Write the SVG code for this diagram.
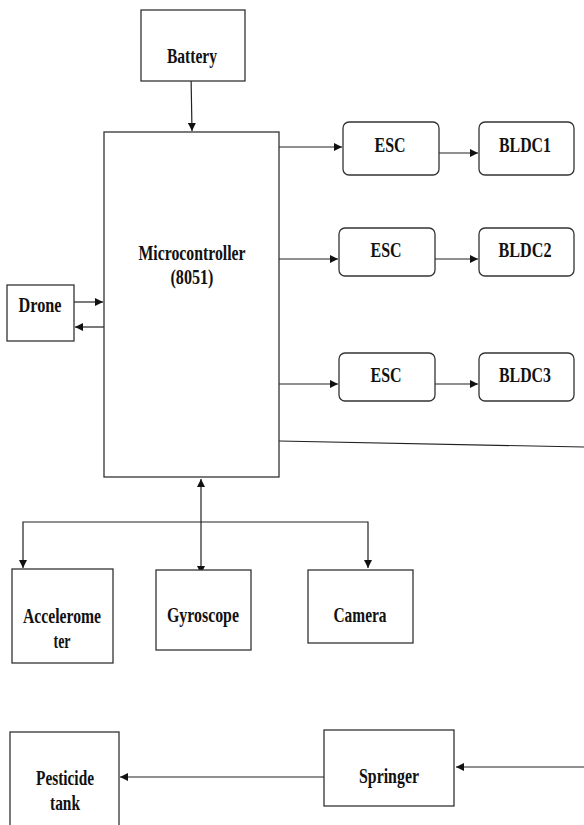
<svg xmlns="http://www.w3.org/2000/svg" width="584" height="825" viewBox="0 0 584 825" font-family="Liberation Serif, DejaVu Serif, serif">
<style>
.box{fill:#fff;stroke:#333;stroke-width:1.3}
text{font-weight:700;font-size:21px;fill:#111;text-anchor:middle}
.c{fill:none;stroke:#222;stroke-width:1.2}
</style>
<defs>
<marker id="a" viewBox="0 0 10 10" refX="10" refY="5" markerWidth="8" markerHeight="8" orient="auto-start-reverse" markerUnits="userSpaceOnUse">
<path d="M0,0 L10,5 L0,10 z" fill="#111"/>
</marker>
</defs>
<rect width="584" height="825" fill="#fff"/>
<g id="connectors">
<line class="c" x1="191" y1="74" x2="192" y2="131" marker-end="url(#a)"/>
<line class="c" x1="279" y1="147" x2="342" y2="147" marker-end="url(#a)"/>
<line class="c" x1="439" y1="153" x2="478" y2="153" marker-end="url(#a)"/>
<line class="c" x1="279" y1="259" x2="338" y2="259" marker-end="url(#a)"/>
<line class="c" x1="435" y1="259" x2="478" y2="259" marker-end="url(#a)"/>
<line class="c" x1="279" y1="384" x2="338" y2="384" marker-end="url(#a)"/>
<line class="c" x1="435" y1="384" x2="478" y2="384" marker-end="url(#a)"/>
<line class="c" x1="279" y1="441" x2="584" y2="447"/>
<line class="c" x1="74" y1="302" x2="103" y2="302" marker-end="url(#a)"/>
<line class="c" x1="104" y1="327" x2="75" y2="327" marker-end="url(#a)"/>
<line class="c" x1="201" y1="479" x2="201" y2="574" marker-start="url(#a)" marker-end="url(#a)"/>
<polyline class="c" points="23,568 23,522 368,522 368,568" marker-start="url(#a)" marker-end="url(#a)"/>
<line class="c" x1="324" y1="777" x2="120" y2="777" marker-end="url(#a)"/>
<line class="c" x1="584" y1="767" x2="456" y2="767" marker-end="url(#a)"/>
</g>
<g id="battery"><rect class="box" x="141" y="10" width="104" height="71"/><text x="192" y="63" textLength="50" lengthAdjust="spacingAndGlyphs">Battery</text></g>
<g id="microcontroller"><rect class="box" x="104" y="132" width="175" height="345"/><text x="192" y="260" textLength="107" lengthAdjust="spacingAndGlyphs">Microcontroller</text><text x="192" y="284" textLength="43" lengthAdjust="spacingAndGlyphs">(8051)</text></g>
<g id="esc1"><rect class="box" x="343" y="122" width="96" height="53" rx="6"/><text x="390" y="152" textLength="31" lengthAdjust="spacingAndGlyphs">ESC</text></g>
<g id="bldc1"><rect class="box" x="479" y="122" width="95" height="53" rx="6"/><text x="525" y="152" textLength="52" lengthAdjust="spacingAndGlyphs">BLDC1</text></g>
<g id="esc2"><rect class="box" x="339" y="228" width="96" height="48" rx="6"/><text x="386" y="257" textLength="31" lengthAdjust="spacingAndGlyphs">ESC</text></g>
<g id="bldc2"><rect class="box" x="479" y="228" width="95" height="48" rx="6"/><text x="525" y="257" textLength="53" lengthAdjust="spacingAndGlyphs">BLDC2</text></g>
<g id="esc3"><rect class="box" x="339" y="353" width="96" height="48" rx="6"/><text x="386" y="382" textLength="31" lengthAdjust="spacingAndGlyphs">ESC</text></g>
<g id="bldc3"><rect class="box" x="479" y="353" width="95" height="48" rx="6"/><text x="525" y="382" textLength="52" lengthAdjust="spacingAndGlyphs">BLDC3</text></g>
<g id="drone"><rect class="box" x="7" y="285" width="67" height="56"/><text x="40" y="312" textLength="43" lengthAdjust="spacingAndGlyphs">Drone</text></g>
<g id="accelerometer"><rect class="box" x="12" y="569" width="101" height="94"/><text x="62" y="623" textLength="78" lengthAdjust="spacingAndGlyphs">Accelerome</text><text x="62" y="648" textLength="17" lengthAdjust="spacingAndGlyphs">ter</text></g>
<g id="gyroscope"><rect class="box" x="156" y="570" width="95" height="80"/><text x="203" y="622" textLength="72" lengthAdjust="spacingAndGlyphs">Gyroscope</text></g>
<g id="camera"><rect class="box" x="308" y="570" width="105" height="73"/><text x="360" y="622" textLength="53" lengthAdjust="spacingAndGlyphs">Camera</text></g>
<g id="pesticide-tank"><rect class="box" x="10" y="732" width="109" height="100"/><text x="65" y="785" textLength="58" lengthAdjust="spacingAndGlyphs">Pesticide</text><text x="65" y="810" textLength="30" lengthAdjust="spacingAndGlyphs">tank</text></g>
<g id="springer"><rect class="box" x="324" y="730" width="130" height="76"/><text x="389" y="783" textLength="60" lengthAdjust="spacingAndGlyphs">Springer</text></g>
</svg>
